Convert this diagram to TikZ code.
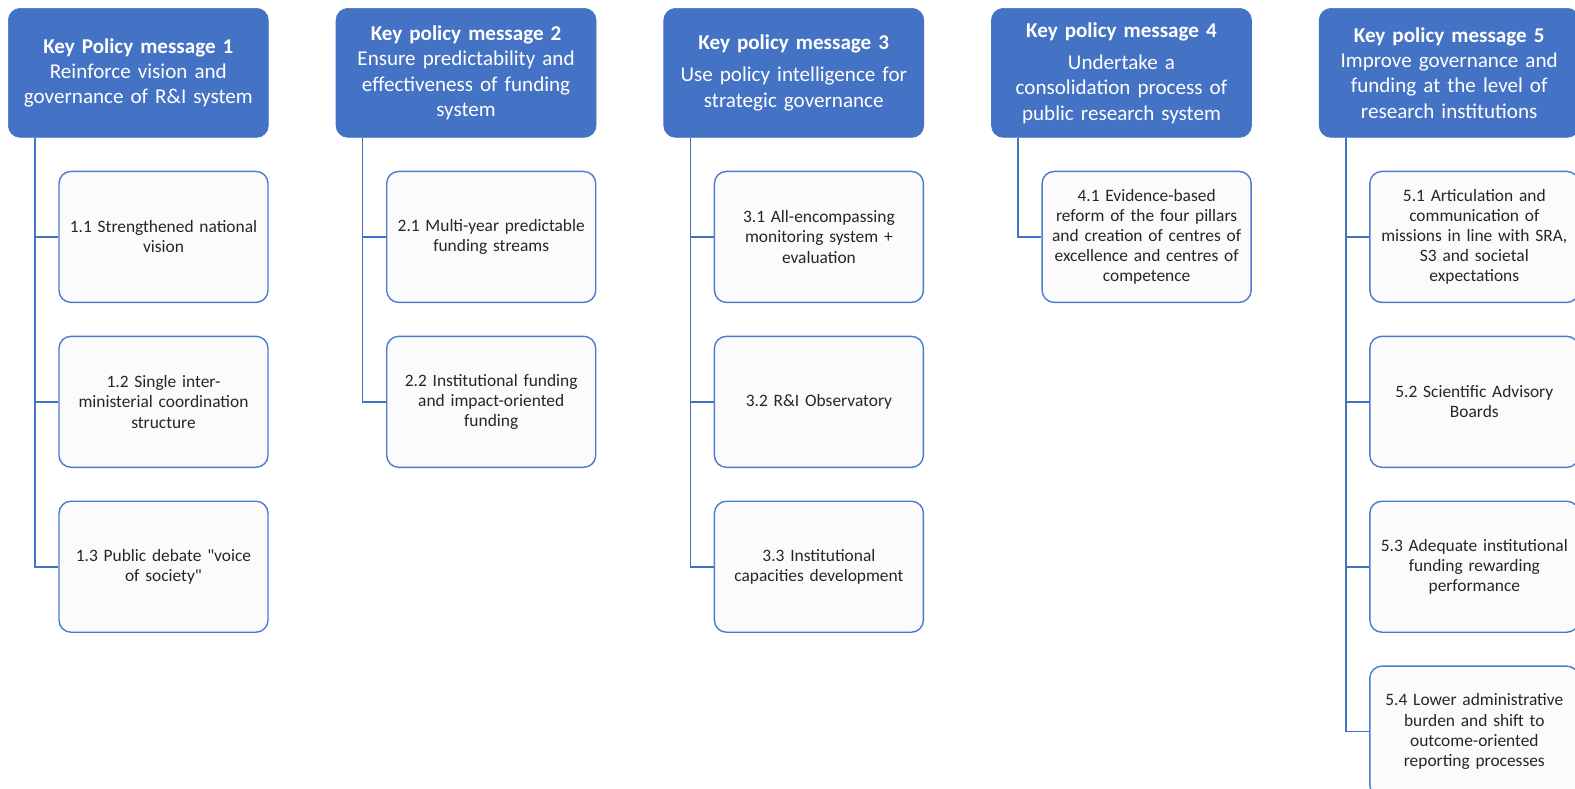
\documentclass[tikz,border=0pt]{standalone}
\usepackage{fontspec}
\setmainfont{Carlito}
\usepackage{xcolor}
\usepackage{tikz}
\usetikzlibrary{positioning}

\definecolor{kpblue}{HTML}{4472C4}
\definecolor{kpedge}{HTML}{4A7BCF}
\definecolor{kpfill}{HTML}{FBFBFB}
\definecolor{kptext}{HTML}{262626}

\begin{document}
\begin{tikzpicture}[
        node distance=1.34cm,
        header/.style={rectangle, draw=kpblue, fill=kpblue, text=white, text width=5cm, align=center, minimum width=5.2cm, minimum height=2.58cm, rounded corners=0.24cm, inner sep=0pt, font=\fontsize{12}{14.4}\selectfont},
        item/.style={rectangle, draw=kpedge, fill=kpfill, text=kptext, text width=4.15cm, align=center, minimum width=4.18cm, minimum height=2.62cm, rounded corners=0.24cm, inner sep=0pt, line width=0.8pt, font=\fontsize{9.9}{11.5}\selectfont},
        line/.style={draw=kpblue, line width=0.9pt}
    ]
    \useasboundingbox (0,0) rectangle (31.5,-15.76);

    % Key policy messages
    \node [header, anchor=north west] (km1) at (0.16,-0.16) {\textbf{Key Policy message 1}\\Reinforce vision and\\governance of R\&I system};
    \node [header, right=of km1] (km2) {\textbf{Key policy message 2}\\Ensure predictability and\\effectiveness of funding\\system};
    \node [header, right=of km2] (km3) {\textbf{Key policy message 3}\\[4pt]Use policy intelligence for\\strategic governance};
    \node [header, right=of km3] (km4) {\textbf{Key policy message 4}\\[4pt]Undertake a\\consolidation process of\\public research system};
    \node [header, right=of km4] (km5) {\textbf{Key policy message 5}\\Improve governance and\\funding at the level of\\research institutions};

    % Message 1
    \node [item, below left=0.66cm and 0cm of km1.south east] (m11) {1.1 Strengthened national\\vision};
    \node [item, below=0.65cm of m11] (m12) {1.2 Single inter-\\ministerial coordination\\structure};
    \node [item, below=0.65cm of m12] (m13) {1.3 Public debate \textquotedbl voice\\of society\textquotedbl};

    % Message 2
    \node [item, below left=0.66cm and 0cm of km2.south east] (m21) {2.1 Multi-year predictable\\funding streams};
    \node [item, below=0.65cm of m21] (m22) {2.2 Institutional funding\\and impact-oriented\\funding};

    % Message 3
    \node [item, below left=0.66cm and 0cm of km3.south east] (m31) {3.1 All-encompassing\\monitoring system +\\evaluation};
    \node [item, below=0.65cm of m31] (m32) {3.2 R\&I Observatory};
    \node [item, below=0.65cm of m32] (m33) {3.3 Institutional\\capacities development};

    % Message 4
    \node [item, below left=0.66cm and 0cm of km4.south east] (m41) {4.1 Evidence-based\\reform of the four pillars\\and creation of centres of\\excellence and centres of\\competence};

    % Message 5
    \node [item, below left=0.66cm and 0cm of km5.south east] (m51) {5.1 Articulation and\\communication of\\missions in line with SRA,\\S3 and societal\\expectations};
    \node [item, below=0.65cm of m51] (m52) {5.2 Scientific Advisory\\Boards};
    \node [item, below=0.65cm of m52] (m53) {5.3 Adequate institutional\\funding rewarding\\performance};
    \node [item, below=0.65cm of m53] (m54) {5.4 Lower administrative\\burden and shift to\\outcome-oriented\\reporting processes};

    % Connections
    \path [line] ([xshift=0.54cm]km1.south west) |- (m11.west);
    \path [line] ([xshift=0.54cm]km1.south west) |- (m12.west);
    \path [line] ([xshift=0.54cm]km1.south west) |- (m13.west);
    \path [line] ([xshift=0.54cm]km2.south west) |- (m21.west);
    \path [line] ([xshift=0.54cm]km2.south west) |- (m22.west);
    \path [line] ([xshift=0.54cm]km3.south west) |- (m31.west);
    \path [line] ([xshift=0.54cm]km3.south west) |- (m32.west);
    \path [line] ([xshift=0.54cm]km3.south west) |- (m33.west);
    \path [line] ([xshift=0.54cm]km4.south west) |- (m41.west);
    \path [line] ([xshift=0.54cm]km5.south west) |- (m51.west);
    \path [line] ([xshift=0.54cm]km5.south west) |- (m52.west);
    \path [line] ([xshift=0.54cm]km5.south west) |- (m53.west);
    \path [line] ([xshift=0.54cm]km5.south west) |- (m54.west);

\end{tikzpicture}
\end{document}
